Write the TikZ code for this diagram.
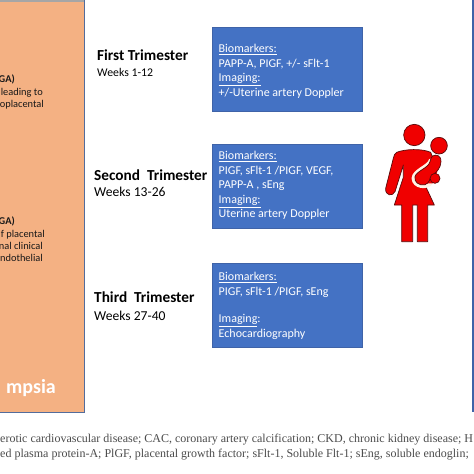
\documentclass[tikz,border=0pt]{standalone}
\usepackage{fontspec}
\setmainfont{Carlito}
\newfontfamily\capfont{Liberation Serif}
\definecolor{orangefill}{HTML}{F4B183}
\definecolor{bluefill}{HTML}{4472C4}
\definecolor{blueedge}{HTML}{3F63A8}
\definecolor{redfig}{HTML}{F00000}
\definecolor{rededge}{HTML}{5A0A0A}
\tikzset{
  bluebox/.style={draw=blueedge,line width=0.6pt,fill=bluefill,text=white,minimum width=150pt,minimum height=84pt,anchor=north west,inner sep=0pt},
  boxtext/.style={text=white,font=\fontsize{12}{14.6}\selectfont,align=left,anchor=north west,inner sep=0pt},
  trimtitle/.style={font=\bfseries\fontsize{15.3}{16}\selectfont,anchor=base west,inner sep=0pt,text=black},
  weeks/.style={font=\fontsize{11.8}{14}\selectfont,anchor=base west,inner sep=0pt,text=black},
  weeksb/.style={font=\fontsize{13.6}{14}\selectfont,anchor=base west,inner sep=0pt,text=black},
  sidetext/.style={font=\fontsize{10.4}{12}\selectfont,anchor=base east,inner sep=0pt,text=black!90},
  captext/.style={font=\capfont\fontsize{12}{13}\selectfont,anchor=base west,inner sep=0pt,text=black!70},
  figline/.style={draw=rededge,line width=0.7pt,fill=redfig,line join=round}
}
\begin{document}
\begin{tikzpicture}[x=1pt,y=-1pt]
\useasboundingbox (0,0) rectangle (474,474);
\fill[white] (0,0) rectangle (474,474);
% side panel
\fill[orangefill] (0,0) rectangle (84,412);
\fill[black!35] (0,0) rectangle (84,2);
\draw[color=blueedge!70!gray,line width=1pt] (84.5,0) -- (84.5,412) -- (0,412);
\draw[color=blueedge,line width=2pt] (472.5,0) -- (472.5,412);
\node[sidetext,font=\bfseries\fontsize{10.4}{12}\selectfont] (s1) at (15,82) {GA)};
\node[sidetext] (s2) at (43,95) {leading to};
\node[sidetext] (s3) at (44,107) {oplacental};
\node[sidetext,font=\bfseries\fontsize{10.4}{12}\selectfont] (s4) at (15,224) {GA)};
\node[sidetext] (s5) at (45,237) {f placental};
\node[sidetext] (s6) at (43,249) {nal clinical};
\node[sidetext] (s7) at (43,261) {ndothelial};
\node[anchor=base east,inner sep=0pt,text=white,font=\bfseries\fontsize{20}{22}\selectfont] (s8) at (56,393) {mpsia};
% trimesters
\node[trimtitle] (t1) at (97,60) {First Trimester};
\node[weeks] (w1) at (97,76) {Weeks 1-12};
\node[trimtitle] (t2) at (94,180) {Second\ \ Trimester};
\node[weeksb] (w2) at (94,196) {Weeks 13-26};
\node[trimtitle] (t3) at (94,302) {Third\ \ Trimester};
\node[weeksb] (w3) at (94,320) {Weeks 27-40};
% boxes
\node[bluebox] (b1) at (212,27) {};
\node[bluebox] (b2) at (212,144) {};
\node[bluebox] (b3) at (212,263) {};
\node[boxtext] (x1) at (218.5,44) {\underline{Biomarkers:}\\PAPP-A, PIGF, +/- sFlt-1\\\underline{Imaging:}\\+/-Uterine artery Doppler};
\node[boxtext] (x2) at (218.5,151) {\underline{Biomarkers:}\\PIGF, sFlt-1 /PIGF, VEGF,\\PAPP-A , sEng\\\underline{Imaging:}\\Uterine artery Doppler};
\node[boxtext] (x3) at (218.5,272) {\underline{Biomarkers:}\\PIGF, sFlt-1 /PIGF, sEng\\[13pt]\underline{Imaging}:\\Echocardiography};
% figure
\begin{scope}[shift={(340,100)},scale=1/3]
  \draw[figline] (170,157) .. controls (195,147) and (245,145) .. (272,157) -- (290,200) -- (255,255)
    -- (283,315) -- (263,315) -- (263,425) -- (232,425) -- (232,315) -- (218,315) -- (218,425) -- (185,425) -- (185,315) -- (163,315)
    -- (190,232) -- (190,195) -- (165,275) .. controls (158,290) and (135,288) .. (137,265) -- (160,175) .. controls (162,165) and (165,160) .. (170,157) -- cycle;
  \draw[draw=white!90!orange,line width=3.6pt,fill=redfig,line join=round,line cap=round]
    (272,180) .. controls (268,200) and (222,210) .. (220,235) .. controls (222,262) and (260,265) .. (272,250);
  \fill[redfig] (272,190) -- (300,190) -- (280,250) -- (235,250) -- (230,225) -- cycle;
  \draw[figline] (278,168) .. controls (290,160) and (305,170) .. (303,185) .. controls (302,205) and (290,215) .. (278,225)
    .. controls (268,235) and (270,248) .. (255,254) .. controls (235,258) and (222,245) .. (225,230) .. controls (230,212) and (265,205) .. (270,185) .. controls (272,175) and (274,171) .. (278,168) -- cycle;
  \draw[figline] (285,235) circle (15);
  \draw[figline] (223,105) circle (32);
  \draw[figline] (297,137) circle (25);
\end{scope}
% caption
\node[captext] (c1) at (0,442) {erotic cardiovascular disease; CAC, coronary artery calcification; CKD, chronic kidney disease; H};
\node[captext] (c2) at (0,457) {ed plasma protein-A; PlGF, placental growth factor; sFlt-1, Soluble Flt-1; sEng, soluble endoglin;};
\end{tikzpicture}
\end{document}
